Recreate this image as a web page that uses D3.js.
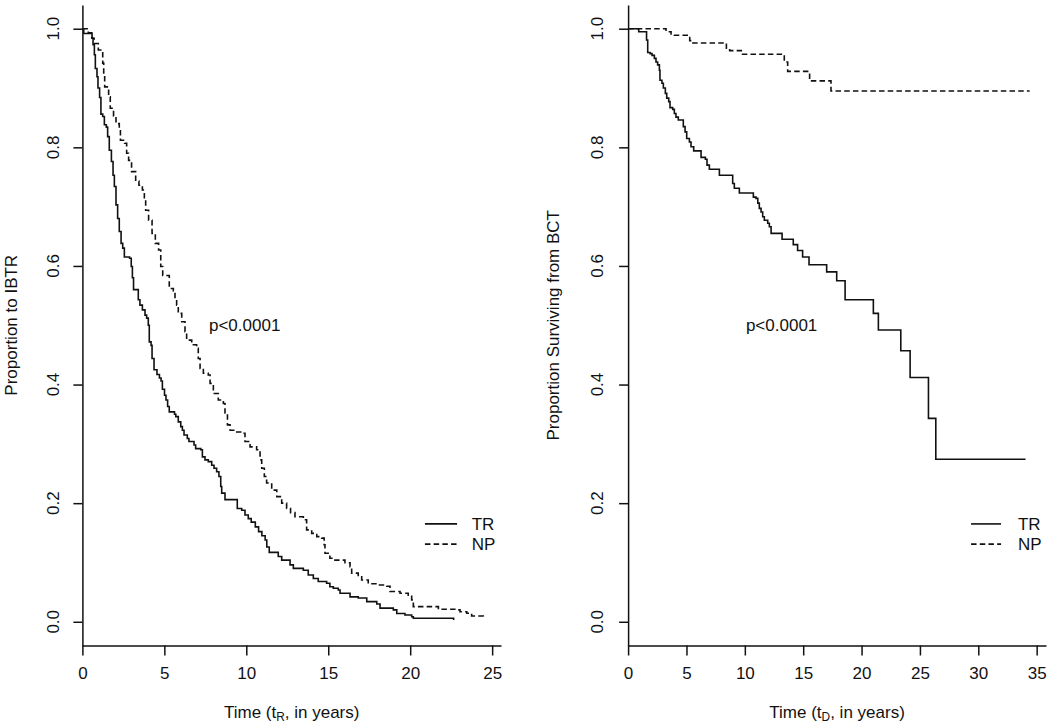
<!DOCTYPE html>
<html><head><meta charset="utf-8">
<script src="https://cdn.jsdelivr.net/npm/d3@7"></script>
<style>
body{margin:0;background:#fff}
text{font-family:"Liberation Sans",Arial,Helvetica,sans-serif;fill:#111}
</style>
</head><body>
<svg id="c" width="1050" height="726"></svg>
<script>
// ---------- data ----------
const yTicks = [0, 0.2, 0.4, 0.6, 0.8, 1.0];
const yTickLabels = ["0.0", "0.2", "0.4", "0.6", "0.8", "1.0"];
const xTicksLeft = [0, 5, 10, 15, 20, 25];
const xTicksRight = [0, 5, 10, 15, 20, 25, 30, 35];
const seriesNames = ["TR", "NP"];
const pText = "p<0.0001";

// Left panel: Proportion to IBTR (time t_R)
const ibtrTR = [[0,1],[0.08,0.992],[0.59,0.984],[0.65,0.973],[0.73,0.956],[0.79,0.933],[0.89,0.919],[0.95,0.900],[1.05,0.884],[1.13,0.856],[1.24,0.852],[1.34,0.838],[1.46,0.834],[1.54,0.818],[1.64,0.795],[1.77,0.776],[1.87,0.753],[1.95,0.734],[2.05,0.703],[2.15,0.680],[2.25,0.658],[2.36,0.638],[2.46,0.630],[2.56,0.615],[2.88,0.613],[2.98,0.599],[3.05,0.580],[3.12,0.560],[3.41,0.543],[3.51,0.534],[3.66,0.526],[3.82,0.517],[3.92,0.512],[4.02,0.500],[4.08,0.472],[4.19,0.466],[4.25,0.444],[4.37,0.425],[4.55,0.417],[4.70,0.411],[4.80,0.406],[4.88,0.392],[5.01,0.382],[5.10,0.374],[5.20,0.363],[5.30,0.354],[5.62,0.350],[5.70,0.346],[5.85,0.337],[6.00,0.329],[6.10,0.323],[6.20,0.315],[6.40,0.309],[6.50,0.304],[6.81,0.298],[6.91,0.292],[7.22,0.290],[7.32,0.278],[7.48,0.273],[7.68,0.270],[7.89,0.264],[8.03,0.259],[8.19,0.253],[8.33,0.245],[8.44,0.228],[8.50,0.217],[8.70,0.206],[9.45,0.191],[9.72,0.188],[9.92,0.180],[10.12,0.174],[10.30,0.168],[10.55,0.160],[10.75,0.152],[10.95,0.145],[11.15,0.138],[11.25,0.126],[11.40,0.117],[11.95,0.110],[12.16,0.104],[12.67,0.096],[12.87,0.090],[13.48,0.087],[13.78,0.079],[14.09,0.073],[14.39,0.068],[14.90,0.065],[15.10,0.059],[15.31,0.0565],[15.61,0.0536],[15.72,0.048],[16.33,0.042],[16.83,0.040],[17.35,0.034],[17.96,0.030],[18.16,0.023],[18.97,0.020],[19.18,0.014],[19.68,0.0115],[20.09,0.0086],[20.19,0.006],[22.65,0.003]];
const ibtrNP = [[0,1],[0.36,0.993],[0.57,0.984],[0.72,0.975],[0.97,0.964],[1.12,0.961],[1.24,0.942],[1.30,0.922],[1.36,0.902],[1.60,0.885],[1.70,0.866],[1.90,0.853],[2.05,0.840],[2.25,0.830],[2.32,0.812],[2.58,0.807],[2.70,0.790],[2.82,0.778],[3.00,0.759],[3.25,0.743],[3.45,0.736],[3.66,0.728],[3.78,0.711],[3.86,0.694],[4.04,0.677],[4.25,0.655],[4.45,0.638],[4.65,0.627],[4.78,0.599],[4.90,0.584],[5.30,0.562],[5.55,0.558],[5.65,0.545],[5.75,0.534],[5.85,0.520],[6.06,0.506],[6.26,0.489],[6.36,0.475],[6.67,0.467],[6.97,0.461],[7.07,0.444],[7.18,0.427],[7.38,0.419],[7.68,0.416],[7.79,0.402],[7.99,0.385],[8.29,0.374],[8.60,0.368],[8.70,0.352],[8.85,0.332],[9.01,0.323],[9.31,0.320],[9.72,0.318],[9.92,0.304],[10.23,0.295],[10.63,0.290],[10.84,0.273],[10.94,0.259],[11.10,0.245],[11.24,0.234],[11.55,0.222],[11.86,0.211],[12.16,0.200],[12.46,0.191],[12.70,0.184],[12.97,0.177],[13.48,0.172],[13.68,0.155],[13.99,0.149],[14.30,0.1435],[14.60,0.141],[14.75,0.130],[14.80,0.1155],[15.10,0.107],[15.41,0.104],[16.02,0.0996],[16.33,0.093],[16.43,0.082],[16.83,0.076],[17.04,0.0705],[17.44,0.064],[17.96,0.062],[18.57,0.060],[18.77,0.051],[19.38,0.048],[19.88,0.045],[20.09,0.037],[20.19,0.0255],[21.72,0.021],[22.84,0.020],[23.04,0.017],[23.45,0.0143],[23.75,0.0098],[24.46,0.0086],[24.55,0.0086]];

// Right panel: Proportion Surviving from BCT (time t_D)
const survTR = [[0,1],[0.91,0.995],[1.58,0.981],[1.68,0.960],[1.88,0.958],[2.05,0.955],[2.25,0.950],[2.39,0.944],[2.53,0.939],[2.68,0.930],[2.73,0.913],[2.90,0.908],[3.02,0.900],[3.19,0.891],[3.31,0.883],[3.48,0.877],[3.59,0.867],[3.82,0.864],[3.96,0.857],[4.10,0.851],[4.30,0.846],[4.73,0.835],[4.88,0.826],[5.02,0.815],[5.25,0.809],[5.39,0.801],[5.62,0.794],[6.25,0.783],[6.62,0.780],[6.76,0.770],[6.96,0.763],[7.82,0.753],[8.96,0.739],[9.10,0.731],[9.53,0.723],[10.73,0.716],[10.96,0.714],[11.11,0.706],[11.24,0.697],[11.39,0.691],[11.53,0.683],[11.67,0.677],[11.96,0.672],[12.10,0.666],[12.25,0.655],[13.19,0.645],[14.15,0.636],[14.52,0.626],[14.95,0.615],[15.50,0.602],[17.01,0.590],[17.87,0.575],[18.59,0.543],[21.01,0.520],[21.44,0.492],[23.36,0.457],[24.16,0.412],[25.73,0.343],[26.36,0.274],[34.05,0.274]];
const survNP = [[0,1],[3.25,0.995],[3.68,0.991],[3.96,0.989],[5.28,0.980],[5.55,0.976],[8.42,0.967],[8.70,0.963],[9.70,0.957],[13.25,0.954],[13.38,0.944],[13.67,0.928],[15.55,0.912],[17.38,0.895],[34.4,0.895]];

// ---------- drawing ----------
const svg = d3.select("#c");
const FS = 17;
const dashNP = "5.5,3.2";

const panels = [
  {xDom:[0,25.54], xRange:[82.4,501], xTicks:xTicksLeft, series:[ibtrTR, ibtrNP],
   ylab:"Proportion to IBTR", sub:"R", ylabX:16.5, tickLabX:58.5,
   pPos:[9.9,0.5], legX:[20.9,22.86,23.75]},
  {xDom:[0,35.8], xRange:[628.1,1046], xTicks:xTicksRight, series:[survTR, survNP],
   ylab:"Proportion Surviving from BCT", sub:"D", ylabX:559, tickLabX:603,
   pPos:[13.15,0.5], legX:[29.38,31.95,33.4]}
];

const y = d3.scaleLinear().domain([-0.04,1.04]).range([645.5,5]);

panels.forEach(p => {
  const x = d3.scaleLinear().domain(p.xDom).range(p.xRange);
  const g = svg.append("g");

  // x axis
  const xa = g.append("g").attr("transform", `translate(0,${y.range()[0]})`)
    .call(d3.axisBottom(x).tickValues(p.xTicks).tickSize(10).tickSizeOuter(0).tickFormat(d3.format("d")));
  xa.selectAll("path,line").attr("stroke","#111").attr("stroke-width",1.5);
  xa.selectAll("text").attr("y",33.5).attr("dy",0).attr("font-size",FS).attr("fill","#111")
    .attr("font-family",'"Liberation Sans",Arial,sans-serif');

  // y axis
  const ya = g.append("g").attr("transform", `translate(${p.xRange[0]},0)`)
    .call(d3.axisLeft(y).tickValues(yTicks).tickSize(9).tickSizeOuter(0).tickFormat(""));
  ya.selectAll("path,line").attr("stroke","#111").attr("stroke-width",1.5);
  ya.selectAll("text").remove();
  g.selectAll(".ytl").data(yTicks).enter().append("text")
    .attr("transform", (d) => `translate(${p.tickLabX},${y(d)}) rotate(-90)`)
    .attr("text-anchor","middle").attr("font-size",FS)
    .text((d,i) => yTickLabels[i]);

  // y title
  g.append("text")
    .attr("transform", `translate(${p.ylabX},${(y.range()[0]+y.range()[1])/2}) rotate(-90)`)
    .attr("text-anchor","middle").attr("font-size",FS).text(p.ylab);

  // x title
  const xt = g.append("text")
    .attr("x",(p.xRange[0]+p.xRange[1])/2).attr("y",717.5)
    .attr("text-anchor","middle").attr("font-size",FS);
  xt.append("tspan").text("Time (t");
  xt.append("tspan").attr("font-size",FS*0.7).attr("dy",3).text(p.sub);
  xt.append("tspan").attr("dy",-3).text(", in years)");

  // curves
  const line = d3.line().x(d => x(d[0])).y(d => y(d[1])).curve(d3.curveStepAfter);
  p.series.forEach((s,i) => {
    g.append("path").attr("d", line(s)).attr("fill","none")
      .attr("stroke","#111").attr("stroke-width",1.6)
      .attr("stroke-dasharray", i===1 ? dashNP : null);
  });

  // p-value
  g.append("text").attr("x",x(p.pPos[0])).attr("y",y(p.pPos[1])+6)
    .attr("text-anchor","middle").attr("font-size",FS).text(pText);

  // legend
  const legY = [0.165, 0.131];
  seriesNames.forEach((nm,i) => {
    g.append("line").attr("x1",x(p.legX[0])).attr("x2",x(p.legX[1]))
      .attr("y1",y(legY[i])).attr("y2",y(legY[i]))
      .attr("stroke","#111").attr("stroke-width",1.6)
      .attr("stroke-dasharray", i===1 ? dashNP : null);
    g.append("text").attr("x",x(p.legX[2])).attr("y",y(legY[i])+6)
      .attr("font-size",FS).text(nm);
  });
});
</script>
</body></html>
